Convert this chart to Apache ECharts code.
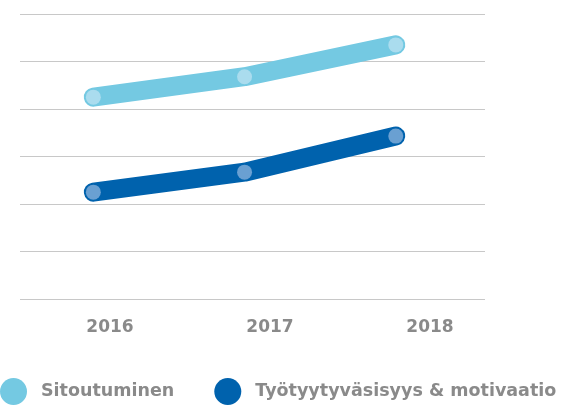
<!DOCTYPE html>
<html>
<head>
<meta charset="utf-8">
<script src="https://cdn.jsdelivr.net/npm/echarts@6/dist/echarts.min.js"></script>
<style>
  html, body { margin: 0; padding: 0; background: #fff; }
  #chart { width: 566px; height: 405px; }
</style>
</head>
<body>
<div id="chart"></div>
<script>
// vuodet ja sarjat
const years = [2016, 2017, 2018];
const sitoutuminen = [4.25, 4.68, 5.35];
const tyytyvaisyys = [2.25, 2.67, 3.43];
const seriesNames = ['Sitoutuminen', 'Työtyytyväsisyys & motivaatio'];

const lightBlue = '#74c9e2';
const darkBlue = '#0062ad';
const font = '"DejaVu Sans"';

function toPairs(vals) {
  return years.map(function (y, i) { return [y, vals[i]]; });
}

function lineSeries(name, vals, color, dotColor) {
  return {
    name: name,
    type: 'line',
    xAxisIndex: 0,
    data: toPairs(vals),
    symbol: 'circle',
    symbolSize: 15,
    color: color,
    lineStyle: { width: 19, color: color, cap: 'round', join: 'round' },
    itemStyle: { color: dotColor, borderWidth: 0 },
    z: 3
  };
}

const chart = echarts.init(document.getElementById('chart'));
chart.setOption({
  animation: false,
  grid: { left: 20, right: 81, top: 14, bottom: 106 },
  legend: {
    left: 0,
    top: 378,
    padding: 0,
    icon: 'circle',
    itemWidth: 27,
    itemHeight: 27,
    itemGap: 40,
    data: [
      { name: seriesNames[0], itemStyle: { color: lightBlue } },
      { name: seriesNames[1], itemStyle: { color: darkBlue } }
    ],
    textStyle: { color: '#8a8a8a', fontSize: 17.5, fontWeight: 'bold', fontFamily: font, padding: [0, 0, 0, 9] }
  },
  xAxis: [
    {
      type: 'value',
      min: 2015.515,
      max: 2018.59,
      show: false
    },
    {
      type: 'value',
      position: 'bottom',
      min: 2015.4375,
      max: 2018.34375,
      axisLine: { show: false },
      axisTick: { show: false },
      splitLine: { show: false },
      axisLabel: {
        customValues: years,
        margin: 20,
        color: '#8a8a8a',
        fontSize: 17,
        fontWeight: 'bold',
        fontFamily: font,
        formatter: function (v) { return String(v); }
      }
    }
  ],
  yAxis: {
    type: 'value',
    min: 0,
    max: 6,
    interval: 1,
    axisLine: { show: false },
    axisTick: { show: false },
    axisLabel: { show: false },
    splitLine: { lineStyle: { color: '#c8c8c8', width: 1 } }
  },
  series: [
    lineSeries(seriesNames[0], sitoutuminen, lightBlue, '#aadcee'),
    lineSeries(seriesNames[1], tyytyvaisyys, darkBlue, '#6aa0d2')
  ]
});
</script>
</body>
</html>
